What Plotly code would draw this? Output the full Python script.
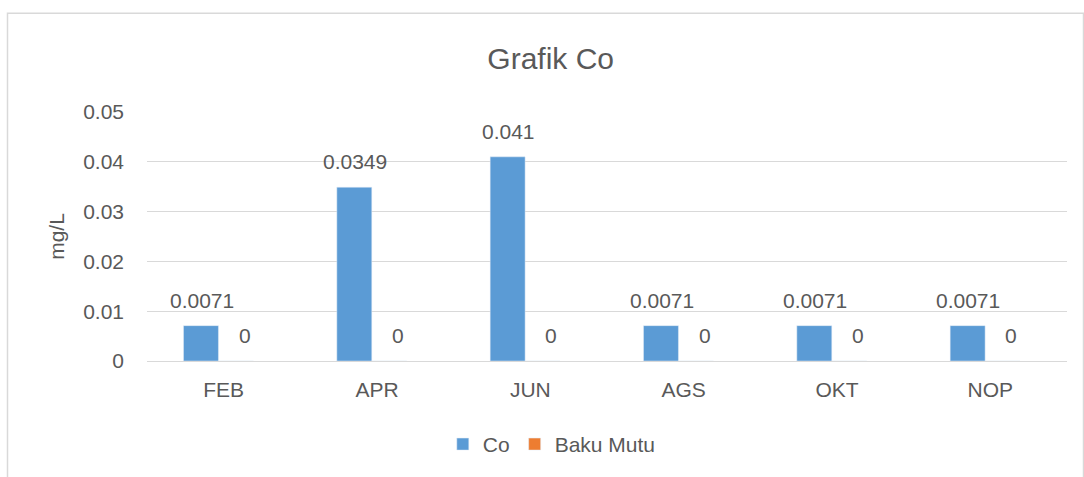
import plotly.graph_objects as go

categories = ["FEB", "APR", "JUN", "AGS", "OKT", "NOP"]
co_values = [0.0071, 0.0349, 0.041, 0.0071, 0.0071, 0.0071]
co_labels = ["0.0071", "0.0349", "0.041", "0.0071", "0.0071", "0.0071"]
baku_values = [0, 0, 0, 0, 0, 0]
baku_labels = ["0", "0", "0", "0", "0", "0"]
y_ticks = [0, 0.01, 0.02, 0.03, 0.04, 0.05]
y_ticklabels = ["0", "0.01", "0.02", "0.03", "0.04", "0.05"]

FONT = "Liberation Sans"
TXT = "#595959"
FS = 21

fig = go.Figure()
fig.add_trace(go.Bar(name="Co", x=categories, y=co_values,
                     marker_color="#5B9BD5", width=0.228, offset=-0.262))
fig.add_trace(go.Bar(name="Baku Mutu", x=categories, y=baku_values,
                     marker_color="#ED7D31", width=0.228, offset=-0.034))

annotations = []
for c, v, t in zip(categories, co_values, co_labels):
    annotations.append(dict(x=c, y=v, text=t, showarrow=False, xref="x", yref="y",
                            xshift=-22, yshift=12, yanchor="bottom",
                            font=dict(family=FONT, size=FS, color=TXT)))
for c, v, t in zip(categories, baku_values, baku_labels):
    annotations.append(dict(x=c, y=v, text=t, showarrow=False, xref="x", yref="y",
                            xshift=21, yshift=26, yanchor="middle",
                            font=dict(family=FONT, size=FS, color=TXT)))

fig.update_layout(
    width=1084, height=477,
    margin=dict(l=147, r=17, t=112, b=114),
    paper_bgcolor="white", plot_bgcolor="white",
    title=dict(text="Grafik Co", x=0.508, xanchor="center", y=0.878, yanchor="middle",
               font=dict(family=FONT, size=30, color=TXT)),
    font=dict(family=FONT, size=FS, color=TXT),
    barmode="group",
    showlegend=True,
    legend=dict(orientation="h", x=0.44, xanchor="center", y=-0.335, yanchor="middle",
                font=dict(family=FONT, size=FS, color=TXT), itemwidth=30,
                traceorder="normal"),
    xaxis=dict(showgrid=False, showline=False, ticks="", ticklabelstandoff=14,
               tickfont=dict(size=FS, color=TXT)),
    yaxis=dict(range=[0, 0.05], tickvals=y_ticks, ticktext=y_ticklabels,
               showgrid=True, gridcolor="#D9D9D9", gridwidth=1.3, zeroline=True,
               zerolinecolor="#D9D9D9", zerolinewidth=1.3, showline=False,
               ticks="", ticklabelstandoff=22,
               title=dict(text="mg/L", font=dict(family=FONT, size=FS, color=TXT), standoff=12),
               tickfont=dict(size=FS, color=TXT)),
    annotations=annotations,
    shapes=[dict(type="rect", xref="paper", yref="paper",
                 x0=(7.5 - 147) / 920, x1=(1083.5 - 147) / 920,
                 y0=-0.6, y1=1 + (112 - 12.5) / 251,
                 line=dict(color="#D9D9D9", width=1.5), fillcolor="rgba(0,0,0,0)",
                 layer="below")],
)

fig.write_html("out.html", config={"displayModeBar": False},
               post_script="document.body.style.margin='0';")
